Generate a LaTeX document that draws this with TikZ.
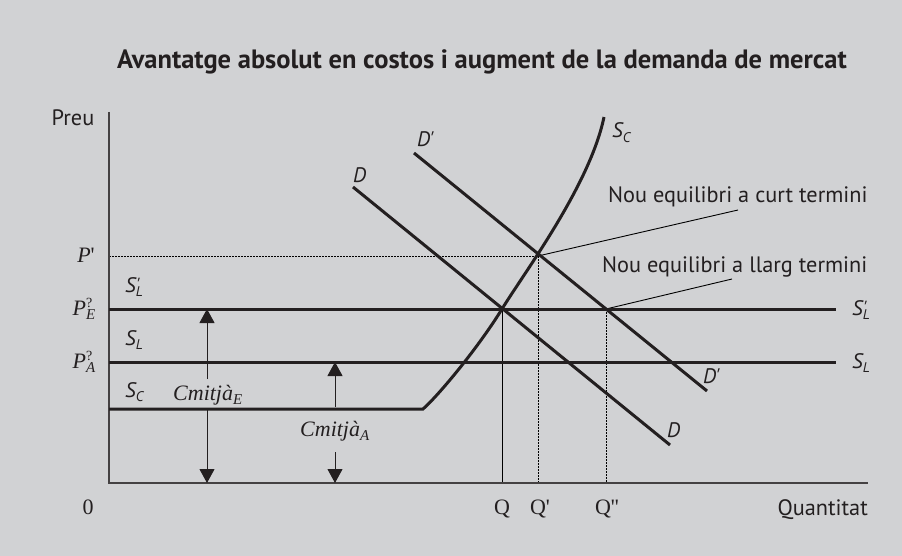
\documentclass[tikz,border=0pt]{standalone}
\usepackage{fontspec}
\newfontfamily\sansf[Ligatures=TeXOff]{PT Sans}
\newfontfamily\seriff[Ligatures=TeXOff]{Liberation Serif}
\usetikzlibrary{arrows.meta}
\definecolor{bg}{HTML}{D1D2D4}
\definecolor{ink}{HTML}{231F20}
\definecolor{thin}{HTML}{6D6E70}
% sans subscript / prime over subscript
\newcommand{\sanssub}[1]{\raisebox{-4.5pt}{\sansf\itshape\fontsize{14}{14}\selectfont #1}}
\newcommand{\sansprimesub}[1]{\rlap{\raisebox{1pt}{\sansf\fontsize{19}{19}\selectfont '}}\raisebox{-4.5pt}{\sansf\itshape\fontsize{14}{14}\selectfont #1}}
% serif ? over subscript
\newcommand{\serqsub}[1]{\rlap{\raisebox{8pt}{\seriff\fontsize{14}{14}\selectfont ?}}\raisebox{-4.5pt}{\seriff\itshape\fontsize{15}{15}\selectfont #1}}
\newcommand{\sersub}[1]{\raisebox{-4pt}{\seriff\itshape\fontsize{15}{15}\selectfont #1}}
\tikzset{
 thickline/.style={ink, line width=3pt},
 axisline/.style={ink!85, line width=1.8pt},
 thinline/.style={thin, line width=0.9pt},
 dotline/.style={thin, line width=0.9pt, dash pattern=on 1.5pt off 1.5pt},
 tipline/.style={thinline, -{Triangle[width=15pt,length=14pt]}, ink},
 sanslbl/.style={font=\sansf\fontsize{22.3}{26}\selectfont, text=ink, inner sep=0pt},
 sansit/.style={font=\sansf\itshape\fontsize{21}{25}\selectfont, text=ink, inner sep=0pt},
 seriflbl/.style={font=\seriff\fontsize{22}{26}\selectfont, text=ink, inner sep=0pt},
 titlelbl/.style={font=\sansf\bfseries\fontsize{26.5}{30}\selectfont, text=ink, inner sep=0pt},
}
\begin{document}
\begin{tikzpicture}[x=1pt,y=-1pt]
\fill[bg] (0,0) rectangle (902,556);
\useasboundingbox (0,0) rectangle (902,556);

% title
\node[titlelbl] (title) at (482,62) {Avantatge absolut en costos i augment de la demanda de mercat};

% key coordinates
\coordinate (ytop) at (109,112);
\coordinate (O) at (109,483);
\coordinate (xend) at (868,483);
\coordinate (Pp) at (109,256);
\coordinate (PE) at (109,309);
\coordinate (PA) at (109,362);
\coordinate (SCl) at (109,409);
\coordinate (SCk) at (423,409);
\coordinate (SCt) at (604,117);
\coordinate (SLpr) at (836,309);
\coordinate (SLr) at (836,362);
\coordinate (E1) at (502,309);
\coordinate (E2) at (538,256);
\coordinate (E3) at (606,309);
\coordinate (Qb) at (502,483);
\coordinate (Qpb) at (538,483);
\coordinate (Qppb) at (606,483);
\coordinate (Dt) at (353,187);
\coordinate (Db) at (670,445);
\coordinate (Dpt) at (414,153);
\coordinate (Dpb) at (707,391);
\coordinate (L1) at (738,210);
\coordinate (L2) at (732,279);

% thin guide lines
\draw[dotline] (Pp) -- (E2);
\draw[dotline] (E2) -- (Qpb);
\draw[dotline] (E3) -- (Qppb);
\draw[thinline] (E1) -- (Qb);
\draw[thinline] (E2) -- (L1);
\draw[thinline] (E3) -- (L2);

% axes
\draw[axisline] (ytop) -- (O) -- (xend);

% supply lines
\draw[thickline] (PE) -- (SLpr);
\draw[thickline] (PA) -- (SLr);
\draw[thickline] (SCl) -- (SCk) .. controls (438,396) and (478,348) .. (E1)
   .. controls (524,273) and (590,185) .. (SCt);

% demand lines
\draw[thickline] (Dt) -- (Db);
\draw[thickline] (Dpt) -- (Dpb);

% Cmitja labels and arrows
\node[seriflbl, anchor=base west] (cmE) at (173,400) {\textit{Cmitjà}\sersub{E}};
\node[seriflbl, anchor=base west] (cmA) at (300,436) {\textit{Cmitjà}\sersub{A}};
\coordinate (aEt) at (207,309);
\coordinate (aEb) at (207,483);
\coordinate (aAt) at (335,362);
\coordinate (aAb) at (335,483);
\draw[tipline] (207,379) -- (aEt);
\draw[tipline] (207,410) -- (aEb);
\draw[tipline] (335,407) -- (aAt);
\draw[tipline] (335,452) -- (aAb);

% axis labels
\node[sanslbl, anchor=base] (preu) at (73,126) {Preu};
\node[sanslbl, anchor=base east] (quant) at (868,515) {Quantitat};
\node[seriflbl, anchor=base] (zero) at (88,514) {0};
\node[seriflbl, anchor=base] (q) at (502,514) {Q};
\node[seriflbl, anchor=base] (qp) at (540,514) {Q'};
\node[seriflbl, anchor=base] (qpp) at (607,514) {Q''};

% price labels
\node[seriflbl, anchor=base] (lPp) at (86,262) {\textit{P}'};
\node[seriflbl, anchor=base] (lPE) at (84,315) {\textit{P}\serqsub{E}};
\node[seriflbl, anchor=base] (lPA) at (84,368) {\textit{P}\serqsub{A}};

% supply labels (left)
\node[sansit, anchor=base west] (lSLp) at (125,292) {S\sansprimesub{L}};
\node[sansit, anchor=base west] (lSL) at (125,345) {S\sanssub{L}};
\node[sansit, anchor=base west] (lSC) at (125,397) {S\sanssub{C}};

% supply labels (right)
\node[sansit, anchor=base west] (rSLp) at (852,315) {S\sansprimesub{L}};
\node[sansit, anchor=base west] (rSL) at (852,368) {S\sanssub{L}};
\node[sansit, anchor=base west] (tSC) at (612,138) {S\sanssub{C}};

% demand labels
\node[sansit, anchor=base west] (lD) at (353,183) {D};
\node[sansit, anchor=base west] (lDp) at (417,147) {D'};
\node[sansit, anchor=base west] (rD) at (667,437) {D};
\node[sansit, anchor=base west] (rDp) at (703,383) {D'};

% equilibrium labels
\node[sanslbl, anchor=base west] (curt) at (608,203) {Nou equilibri a curt termini};
\node[sanslbl, anchor=base west] (llarg) at (602,272) {Nou equilibri a llarg termini};
\end{tikzpicture}
\end{document}
